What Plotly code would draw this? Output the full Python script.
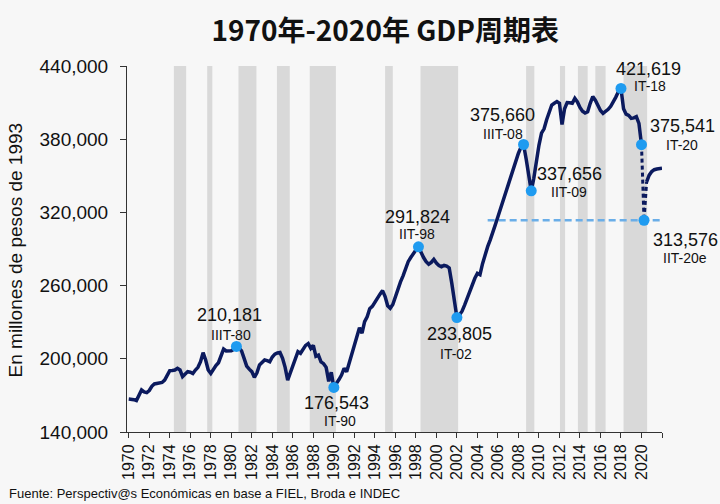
import plotly.graph_objects as go

# ---------------- data ----------------
first_year = 1970  # quarterly series starts in 1970 Q1

# GDP, thousands of millions of 1993 pesos, quarterly 1970-Q1 .. 2020-Q1
gdp_k = [
    167.0, 167.0, 166.5, 165.8,   # 1970
    171.0, 174.4, 172.8, 172.3,   # 1971
    174.0, 177.5, 179.4, 179.6,   # 1972
    180.0, 180.6, 182.5, 186.8,   # 1973
    190.3, 190.5, 190.8, 192.2,   # 1974
    190.8, 185.4, 187.5, 189.5,   # 1975
    189.0, 188.0, 190.8, 193.0,   # 1976
    197.6, 205.0, 199.0, 190.8,   # 1977
    188.0, 191.5, 194.5, 196.8,   # 1978
    201.7, 208.0, 206.4, 206.5,   # 1979
    206.6, 207.7, 210.181, 209.0, # 1980
    206.5, 200.4, 194.0, 191.5,   # 1981
    189.5, 184.8, 188.5, 195.0,   # 1982
    197.5, 199.0, 198.5, 197.6,   # 1983
    201.5, 203.8, 204.8, 205.2,   # 1984
    200.4, 193.0, 182.6, 188.5,   # 1985
    195.0, 202.0, 205.8, 204.5,   # 1986
    207.5, 211.0, 212.5, 208.5,   # 1987
    211.0, 202.0, 203.0, 197.5,   # 1988
    196.0, 193.0, 181.5, 189.0,   # 1989
    176.543, 179.5, 183.0, 186.7, # 1990
    192.2, 189.4, 197.0, 204.0,   # 1991
    210.5, 218.0, 225.5, 221.0,   # 1992
    230.4, 234.5, 241.0, 243.0,   # 1993
    246.8, 250.0, 253.0, 255.9,   # 1994
    251.0, 243.5, 241.4, 244.5,   # 1995
    251.0, 257.0, 263.0, 268.0,   # 1996
    274.0, 279.6, 283.0, 286.5,   # 1997
    289.2, 291.824, 286.5, 283.0, # 1998
    279.6, 277.5, 279.0, 281.5,   # 1999
    278.5, 276.5, 275.5, 276.5,   # 2000
    276.0, 274.5, 262.0, 246.0,   # 2001
    233.805, 236.0, 239.0, 244.0, # 2002
    250.0, 256.0, 261.0, 266.0,   # 2003
    270.0, 269.0, 278.0, 285.5,   # 2004
    291.9, 297.5, 302.9, 310.0,   # 2005
    316.5, 323.0, 330.2, 337.0,   # 2006
    343.9, 350.0, 356.1, 362.5,   # 2007
    368.5, 373.5, 375.660, 364.0, # 2008
    352.0, 337.656, 348.0, 362.0, # 2009
    375.0, 385.0, 388.5, 396.0,   # 2010
    402.5, 408.0, 409.5, 410.8,   # 2011
    409.4, 392.0, 405.0, 410.0,   # 2012
    409.8, 409.4, 413.5, 410.5,   # 2013
    406.0, 403.0, 401.5, 402.5,   # 2014
    409.4, 414.9, 412.0, 407.0,   # 2015
    403.5, 401.2, 402.5, 404.5,   # 2016
    407.0, 410.5, 414.5, 419.0,   # 2017
    421.619, 405.0, 400.5, 399.5, # 2018
    397.1, 397.5, 398.5, 393.0,   # 2019
    375.541,                      # 2020 Q1
]

# 2020 collapse (dashed) and the following path
drop_t = [2020.0, 2020.25, 2020.5]
drop_k = [375.541, 313.576, 345.0]
after_t = [2020.5, 2020.75, 2021.0, 2021.25, 2021.5, 2021.75, 2022.0]
after_k = [345.0, 350.5, 353.5, 355.0, 355.6, 356.0, 356.2]

# labelled turning points
point_t = [1980.5, 1990.0, 1998.25, 2002.0, 2008.5, 2009.25, 2018.0, 2020.0, 2020.25]
point_v = [210181, 176543, 291824, 233805, 375660, 337656, 421619, 375541, 313576]
point_q = ["IIIT-80", "IT-90", "IIT-98", "IT-02", "IIIT-08", "IIT-09", "IT-18", "IT-20", "IIT-20e"]

# recession periods (shaded)
band_start = [1974.4, 1977.65, 1980.7, 1984.45, 1987.65, 1995.0, 1998.45, 2008.75, 2012.05, 2013.8, 2015.5, 2018.25]
band_end   = [1975.6, 1978.15, 1982.45, 1985.7, 1990.2, 1995.75, 2002.12, 2009.55, 2012.55, 2014.75, 2016.5, 2020.55]

# reference level (2020 trough) drawn from 2005 onward
ref_from, ref_to = 2005.0, 2021.9

x_ticks = list(range(1970, 2023, 2))
y_ticks = [140000, 200000, 260000, 320000, 380000, 440000]

title_text = "1970年-2020年 GDP周期表"
y_title = "En millones de pesos de 1993"
source_text = "Fuente: Perspectiv@s Económicas en base a FIEL, Broda e INDEC"

# ---------------- styles ----------------
NAVY = "#0b1a5e"
DOT = "#1f9bf0"
REF = "#6aaee8"
BAND = "#d9d9d9"
BG = "#f7f7f7"
FONT = "Liberation Sans, Arial, sans-serif"

# label offsets in pixels (value label, quarter label), relative to the point
offsets = [
    ((-7, -31), (-5, -11)),
    ((3, 16), (6, 34)),
    ((-1, -30), (-1, -13)),
    ((3, 16), (-1, 36)),
    ((-21, -29), (-21, -10)),
    ((38, -17), (38, 1)),
    ((28, -19), (29, -2)),
    ((41, -19), (41, 0)),
    ((41, 20), (41, 38)),
]

gdp = [v * 1000 for v in gdp_k]
t = [first_year + i / 4 for i in range(len(gdp))]

fig = go.Figure()

for s, e in zip(band_start, band_end):
    fig.add_vrect(x0=s, x1=e, fillcolor=BAND, opacity=1, line_width=0, layer="below")

fig.add_trace(go.Scatter(x=[ref_from, ref_to], y=[point_v[-1]] * 2,
                         mode="lines", line=dict(color=REF, width=2.5, dash="7px,4px"),
                         hoverinfo="skip"))
fig.add_trace(go.Scatter(x=t, y=gdp, mode="lines",
                         line=dict(color=NAVY, width=3.5, shape="linear")))
fig.add_trace(go.Scatter(x=drop_t, y=[v * 1000 for v in drop_k], mode="lines",
                         line=dict(color=NAVY, width=3, dash="4px,3px")))
fig.add_trace(go.Scatter(x=after_t, y=[v * 1000 for v in after_k], mode="lines",
                         line=dict(color=NAVY, width=3.5)))
fig.add_trace(go.Scatter(x=point_t, y=point_v, mode="markers",
                         marker=dict(size=11, color=DOT)))

for (px, pv, pq), ((vx, vy), (qx, qy)) in zip(zip(point_t, point_v, point_q), offsets):
    fig.add_annotation(x=px, y=pv, xref="x", yref="y", text=f"{pv:,}", showarrow=False,
                       xshift=vx, yshift=-vy, font=dict(family=FONT, size=18, color="#111"))
    fig.add_annotation(x=px, y=pv, xref="x", yref="y", text=pq, showarrow=False,
                       xshift=qx, yshift=-qy, font=dict(family=FONT, size=14, color="#111"))

fig.add_annotation(x=-0.2087, y=0.497, xref="paper", yref="paper", text=y_title,
                   textangle=-90, showarrow=False, xanchor="center", yanchor="middle",
                   font=dict(family=FONT, size=19, color="#111"))
fig.add_annotation(x=-0.2237, y=-0.1667, xref="paper", yref="paper", text=source_text,
                   showarrow=False, xanchor="left", yanchor="middle",
                   font=dict(family=FONT, size=13, color="#111"))

fig.update_layout(
    width=720, height=504,
    paper_bgcolor=BG, plot_bgcolor=BG,
    margin=dict(l=127, r=58, t=66, b=72),
    showlegend=False,
    title=dict(text=title_text, x=0.535, xref="container", xanchor="center",
               y=1 - 31 / 504, yref="container", yanchor="middle",
               font=dict(family="Noto Sans CJK SC, sans-serif", size=28, color="#111", weight="bold")),
    xaxis=dict(range=[1969.83, 2022.0], tickvals=x_ticks,
               ticktext=[str(y) if y <= 2020 else "" for y in x_ticks],
               tickangle=-90, ticks="outside", ticklen=5, tickcolor="#333",
               showline=True, linecolor="#333", linewidth=1,
               showgrid=False, zeroline=False,
               tickfont=dict(family=FONT, size=16, color="#111")),
    yaxis=dict(range=[140000, 440000], tickvals=y_ticks, tickformat=",",
               ticks="outside", ticklen=6, tickcolor="#333",
               showline=True, linecolor="#333", linewidth=1,
               showgrid=False, zeroline=False, ticklabelstandoff=8,
               tickfont=dict(family=FONT, size=19, color="#111")),
)

fig.write_html("out.html", config={"displayModeBar": False},
               post_script="document.body.style.margin='0';document.body.style.background='#f7f7f7';")
